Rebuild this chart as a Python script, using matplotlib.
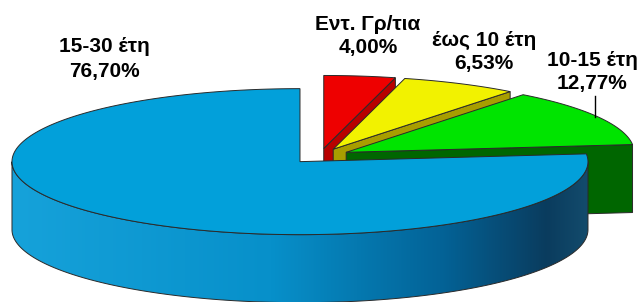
import numpy as np
import matplotlib.pyplot as plt
from matplotlib.patches import Polygon, PathPatch
from matplotlib.path import Path
from matplotlib.colors import LinearSegmentedColormap

# data (clockwise from 12 o'clock)
labels = ['Εντ. Γρ/τια', 'έως 10 έτη', '10-15 έτη', '15-30 έτη']
shares = [4.00, 6.53, 12.77, 76.70]

# styles
top_colors = ['#EE0000', '#F2F200', '#00E400', '#02A0DA']
cut_colors = ['#B80000', '#A89E00', '#006600', '#01608C']
label_pos = [(368, 24, 47), (484, 40, 63), (592, 61, 84), (104, 47, 72)]

# pseudo 3d geometry, in pixels
CX, CY = 320, 156
RX, RY = 288, 73
DEPTH = 68
EXPLODE = 0.104
EDGE = '#2a2a2a'

fig = plt.figure(figsize=(6.41, 3.02), dpi=100)
ax = fig.add_axes([0, 0, 1, 1])
ax.set_xlim(0, 641)
ax.set_ylim(302, 0)
ax.axis('off')


def rim(t, off, z=0.0):
    t = np.radians(np.atleast_1d(t))
    return np.column_stack([CX + off[0] + RX * np.cos(t),
                            CY + off[1] - RY * np.sin(t) + z])


def cut_face(t, off, color):
    apex = np.array([[CX + off[0], CY + off[1]]])
    top = rim(t, off)
    pts = np.vstack([apex, top, top + [0, DEPTH], apex + [0, DEPTH]])
    ax.add_patch(Polygon(pts, closed=True, fc=color, ec=EDGE, lw=0.7))


start = 90.0
for i, (lab, v) in enumerate(zip(labels, shares)):
    a0 = start              # ccw side
    a1 = start - v * 3.6    # cw side
    start = a1
    mid = np.radians((a0 + a1) / 2)
    off = (EXPLODE * RX * np.cos(mid), -EXPLODE * RY * np.sin(mid))

    # flat cut faces that turn towards the viewer
    if np.cos(np.radians(a1)) > 1e-6:
        cut_face(a1, off, cut_colors[i])
    if np.cos(np.radians(a0)) < -1e-6:
        cut_face(a0, off, cut_colors[i])

    # curved outer wall, front half only
    for k in (-1, 0, 1):
        lo = max(a1, -180 + 360 * k)
        hi = min(a0, 360 * k)
        if hi <= lo:
            continue
        ts = np.linspace(lo, hi, 200)
        upper = rim(ts, off)
        lower = rim(ts[::-1], off, DEPTH)
        pts = np.vstack([upper, lower])
        wall = PathPatch(Path(np.vstack([pts, pts[:1]]), closed=True),
                         fc='none', ec='none')
        ax.add_patch(wall)
        if i == 3:
            cmap = LinearSegmentedColormap.from_list(
                'wall', [(0.0, '#16A2DA'), (0.45, '#0790CA'),
                         (0.75, '#036296'), (0.93, '#0A3C5E'), (1.0, '#134B6C')])
            x0, x1 = pts[:, 0].min(), pts[:, 0].max()
            grad = np.linspace(0, 1, 256)[None, :]
            im = ax.imshow(grad, cmap=cmap, aspect='auto',
                           extent=(x0, x1, 302, 0), zorder=1)
            im.set_clip_path(wall)
        else:
            wall.set_facecolor(cut_colors[i])
        ax.add_patch(PathPatch(Path(np.vstack([pts, pts[:1]]), closed=True),
                               fc='none', ec=EDGE, lw=0.7, zorder=1.5))

    # top face
    ts = np.linspace(a1, a0, 300)
    apex = np.array([[CX + off[0], CY + off[1]]])
    pts = np.vstack([apex, rim(ts, off)])
    ax.add_patch(Polygon(pts, closed=True, fc=top_colors[i], ec=EDGE,
                         lw=0.7, zorder=2))

# labels
for lab, v, (x, y1, y2) in zip(labels, shares, label_pos):
    pct = f'{v:.2f}%'.replace('.', ',')
    ax.text(x, y1, lab, ha='center', va='center', fontsize=15,
            fontweight='bold', family='Liberation Sans', color='black')
    ax.text(x, y2, pct, ha='center', va='center', fontsize=15,
            fontweight='bold', family='Liberation Sans', color='black')

# leader line for 10-15
ax.plot([595, 595], [96, 117], color='black', lw=1, zorder=3)

fig.savefig('out.png', dpi=100)
